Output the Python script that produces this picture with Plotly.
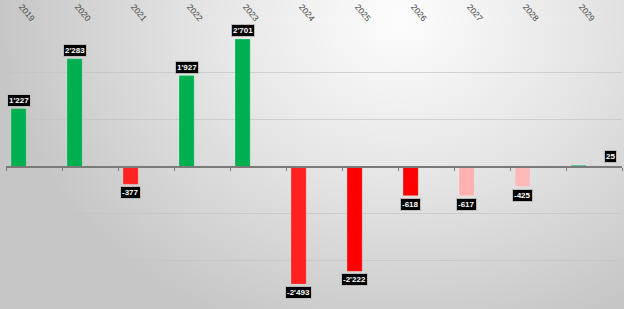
import base64
import plotly.graph_objects as go

years = ["2019", "2020", "2021", "2022", "2023", "2024", "2025", "2026", "2027", "2028", "2029"]
values = [1227, 2283, -377, 1927, 2701, -2493, -2222, -618, -617, -425, 25]
bar_colors = ["#00B050", "#00B050", "#FF2222", "#00B050", "#00B050", "#FF2020",
              "#FF0000", "#FF0000", "#FFB0B0", "#FFB8B8", "#00B050"]

W, H = 624, 309
ML, MR, MT, MB = 6, 2, 25, 1
PW, PH = W - ML - MR, H - MT - MB


def fmt(v):
    s = f"{abs(v):,}".replace(",", "'")
    return ("-" if v < 0 else "") + s


svg = f'''<svg xmlns="http://www.w3.org/2000/svg" width="{W}" height="{H}" viewBox="0 0 {W} {H}" preserveAspectRatio="none">
<defs><radialGradient id="g" gradientUnits="userSpaceOnUse" cx="400" cy="20" r="400"
gradientTransform="translate(400 20) scale(1 0.83) translate(-400 -20)">
<stop offset="0" stop-color="#fdfdfd"/><stop offset="0.5" stop-color="#e4e4e4"/><stop offset="1" stop-color="#c6c6c6"/>
</radialGradient></defs><rect width="{W}" height="{H}" fill="url(#g)"/></svg>'''
bg_uri = "data:image/svg+xml;base64," + base64.b64encode(svg.encode()).decode()

fig = go.Figure()
fig.add_bar(x=years, y=values, marker=dict(color=bar_colors,
            line=dict(color="rgba(255,255,255,0.35)", width=0.5)),
            width=0.27, offset=-0.41, showlegend=False, hoverinfo="skip")
fig.add_scatter(x=years, y=[0] * len(years), xaxis="x2", yaxis="y", mode="none",
                showlegend=False, hoverinfo="skip")

for i, v in enumerate(values):
    xs = 16 if i == len(years) - 1 else -15.5
    fig.add_annotation(x=i, y=v, xref="x", yref="y", text=fmt(v), showarrow=False,
                       xshift=xs, yshift=2 if v >= 0 else -2,
                       yanchor="bottom" if v >= 0 else "top",
                       font=dict(family="Liberation Sans, Arial", size=8, color="white", weight="bold"),
                       bgcolor="black", bordercolor="#bbbbbb", borderwidth=1, borderpad=1)

fig.add_layout_image(source=bg_uri, xref="paper", yref="paper",
                     x=-ML / PW, y=1 + MT / PH, sizex=W / PW, sizey=H / PH,
                     xanchor="left", yanchor="top", sizing="stretch", layer="below")

fig.update_layout(
    template="none",
    width=W, height=H, margin=dict(l=ML, r=MR, t=MT, b=MB, autoexpand=False),
    paper_bgcolor="#dcdcdc", plot_bgcolor="rgba(0,0,0,0)",
    font=dict(family="Liberation Sans, Arial"),
    xaxis=dict(type="category", range=[-0.5, 10.5], anchor="free", position=0.5,
               showline=True, linecolor="#7a7a7a", linewidth=2, ticks="outside",
               tickson="boundaries", ticklen=3, tickcolor="#7a7a7a", automargin=False,
               showticklabels=False, showgrid=False, zeroline=False),
    xaxis2=dict(type="category", range=[-0.5, 10.5], overlaying="x", side="top", anchor="y",
                tickangle=50, ticklabelstandoff=-1, tickfont=dict(size=8.5, color="#444444"),
                automargin=False, showgrid=False, showline=False, ticks="", zeroline=False),
    yaxis=dict(range=[-3000, 3000], dtick=1000, showgrid=True, automargin=False,
               gridcolor="rgba(195,195,195,0.7)", gridwidth=1,
               showticklabels=False, zeroline=False, ticks=""),
)

fig.write_html("out.html")
